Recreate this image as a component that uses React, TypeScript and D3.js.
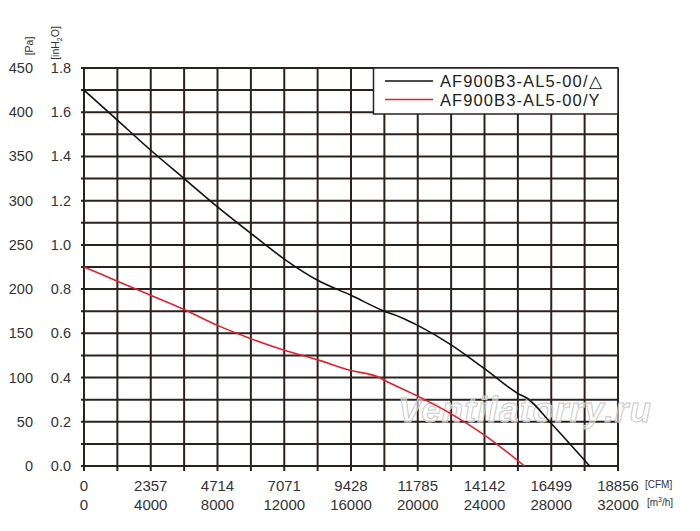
import { useEffect, useRef } from 'react';
import * as d3 from 'd3';

// Airflow (m3/h) vs static pressure (Pa)
const deltaFlow = [0, 2000, 4000, 6000, 8000, 10000, 12000, 14000, 16000, 18000, 19000, 20000, 22000, 24000, 26000, 26600, 28000, 30300];
const deltaPa = [425, 391, 357, 325, 293, 263, 234, 210, 193, 175, 168, 159, 137, 110, 82, 76, 48, 0];

const starFlow = [0, 2000, 4000, 6000, 8000, 10000, 12000, 14000, 16000, 17700, 18000, 20000, 22000, 24000, 26400];
const starPa = [225, 209, 193, 177, 159, 144, 131, 120, 108, 100, 97, 79, 59, 35, 0];

const paTicks = [0, 50, 100, 150, 200, 250, 300, 350, 400, 450];
const inH2OLabels = ['0.0', '0.2', '0.4', '0.6', '0.8', '1.0', '1.2', '1.4', '1.6', '1.8'];
const m3hTicks = [0, 4000, 8000, 12000, 16000, 20000, 24000, 28000, 32000];
const cfmLabels = ['0', '2357', '4714', '7071', '9428', '11785', '14142', '16499', '18856'];

const SERIES = [
  { name: 'AF900B3-AL5-00/\u25B3', flow: deltaFlow, pa: deltaPa, color: '#111111' },
  { name: 'AF900B3-AL5-00/Y', flow: starFlow, pa: starPa, color: '#e3202c' },
];

const FONT = '"Liberation Sans", Arial, sans-serif';
const GRID = '#2b2220';

export default function App() {
  const svgRef = useRef<SVGSVGElement>(null);

  useEffect(() => {
    if (!svgRef.current) return;
    const svg = d3.select(svgRef.current);
    svg.selectAll('*').remove();

    const L = 84, R = 618, T = 68, B = 466;
    const x = d3.scaleLinear().domain([0, 32000]).range([L, R]);
    const y = d3.scaleLinear().domain([0, 450]).range([B, T]);

    svg.append('rect').attr('width', 700).attr('height', 531).attr('fill', '#fff');

    const grid = svg.append('g').attr('stroke', GRID).attr('stroke-width', 2);
    d3.range(0, 450.1, 25).forEach((p) => {
      grid.append('line').attr('x1', L - 3).attr('x2', R).attr('y1', y(p)).attr('y2', y(p));
    });
    d3.range(0, 32001, 2000).forEach((f) => {
      grid.append('line').attr('x1', x(f)).attr('x2', x(f)).attr('y1', T).attr('y2', B + 5);
    });

    // watermark
    svg.append('text')
      .attr('x', 398).attr('y', 422)
      .attr('font-family', FONT).attr('font-size', 35)
      .attr('font-weight', 'bold').attr('font-style', 'italic')
      .attr('fill', 'rgba(255,255,255,0.55)').attr('stroke', '#c9c9c9').attr('stroke-width', 1)
      .attr('textLength', 253)
      .text('Ventilatorry.ru');

    // curves
    SERIES.forEach((s) => {
      const pts = s.flow.map((f, i) => [f, s.pa[i]] as [number, number]);
      const line = d3.line<[number, number]>().x((d) => x(d[0])).y((d) => y(d[1])).curve(d3.curveMonotoneX);
      svg.append('path').attr('d', line(pts)).attr('fill', 'none')
        .attr('stroke', s.color).attr('stroke-width', 1.6);
    });

    // legend
    const lg = svg.append('g');
    lg.append('rect').attr('x', 373.5).attr('y', T).attr('width', R - 373.5).attr('height', 46)
      .attr('fill', '#fff').attr('stroke', GRID).attr('stroke-width', 1.5);
    SERIES.forEach((s, i) => {
      const ly = 81 + i * 18.5;
      lg.append('line').attr('x1', 385).attr('x2', 433).attr('y1', ly).attr('y2', ly)
        .attr('stroke', s.color).attr('stroke-width', 1.6);
      lg.append('text').attr('x', 440).attr('y', ly + 6)
        .attr('font-family', FONT).attr('font-size', 16.5).attr('letter-spacing', 1.1).attr('fill', '#222')
        .text(s.name);
    });

    // y labels
    const yl = svg.append('g').attr('font-family', FONT).attr('font-size', 14.5).attr('fill', '#333').attr('text-anchor', 'end');
    paTicks.forEach((p, i) => {
      yl.append('text').attr('x', 33).attr('y', y(p) + 5).text(p);
      yl.append('text').attr('x', 71).attr('y', y(p) + 5).text(inH2OLabels[i]);
    });
    svg.append('text').attr('transform', 'translate(33,46) rotate(-90)')
      .attr('font-family', FONT).attr('font-size', 10.5).attr('fill', '#333').attr('text-anchor', 'middle')
      .text('[Pa]');
    const ih = svg.append('text').attr('transform', 'translate(59,43) rotate(-90)')
      .attr('font-family', FONT).attr('font-size', 10.5).attr('fill', '#333').attr('text-anchor', 'middle');
    ih.append('tspan').text('[inH');
    ih.append('tspan').attr('font-size', 7).attr('dy', 3).text('2');
    ih.append('tspan').attr('dy', -3).text('O]');

    // x labels
    const xl = svg.append('g').attr('font-family', FONT).attr('font-size', 15).attr('fill', '#333').attr('text-anchor', 'middle');
    m3hTicks.forEach((f, i) => {
      xl.append('text').attr('x', x(f)).attr('y', 490.5).text(cfmLabels[i]);
      xl.append('text').attr('x', x(f)).attr('y', 510).text(f);
    });
    const unit = svg.append('g').attr('font-family', FONT).attr('font-size', 10).attr('fill', '#333');
    unit.append('text').attr('x', 645).attr('y', 488).text('[CFM]');
    const m3 = unit.append('text').attr('x', 647).attr('y', 506);
    m3.append('tspan').text('[m');
    m3.append('tspan').attr('font-size', 7).attr('dy', -4).text('3');
    m3.append('tspan').attr('dy', 4).text('/h]');
  }, []);

  return (
    <svg
      ref={svgRef}
      width={700}
      height={531}
      viewBox="0 0 700 531"
      style={{ position: 'absolute', left: 0, top: 0 }}
    />
  );
}
